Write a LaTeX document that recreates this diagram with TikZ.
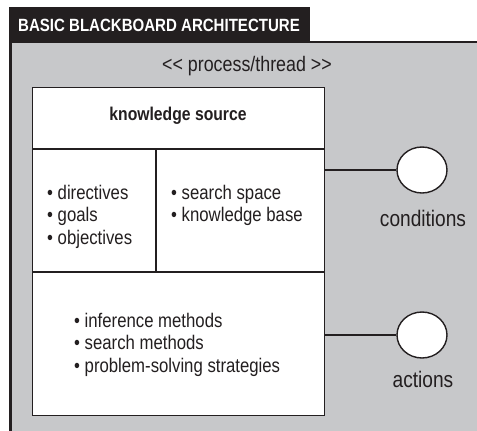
\documentclass[tikz,border=0pt]{standalone}
\usepackage{fontspec}
\usetikzlibrary{shapes.geometric}
\setmainfont{Liberation Sans}[FakeStretch=0.85]
\definecolor{panelgray}{RGB}{199,200,202}
\definecolor{ink}{RGB}{35,31,32}
\begin{document}
\begin{tikzpicture}[x=1pt,y=-1pt,
  edge/.style={draw=ink,line width=1.4pt},
  body/.style={font=\fontsize{19.7}{22.3}\selectfont,text=ink,inner sep=0pt},
  lst/.style={body,align=left,anchor=north west},
  port/.style={draw=ink,line width=1.4pt,fill=white,ellipse,minimum width=50pt,minimum height=46pt,inner sep=0pt},
  portlabel/.style={font=\fontsize{22.5}{24}\selectfont,text=ink,inner sep=0pt}]
\useasboundingbox (0,0) rectangle (477,431);
\fill[white] (0,0) rectangle (477,431);
% panel
\fill[panelgray] (9,42) rectangle (477,431);
\fill[ink] (9,7) rectangle (310,42);
\draw[ink,line width=2.7pt] (477,42) -- (10.3,42) -- (10.3,431);
\node[font=\bfseries\fontsize{17.7}{20}\selectfont,text=white,anchor=west,inner sep=0pt] (title) at (18,25) {BASIC BLACKBOARD ARCHITECTURE};
\node[font=\fontsize{21}{24}\selectfont,text=ink,inner sep=0pt] (stereo) at (247,66) {{<}{<} process/thread {>}{>}};
% box
\fill[white] (32,87) rectangle (324,415);
\draw[edge] (32,149) -- (324,149);
\draw[edge] (32,272) -- (324,272);
\draw[edge] (156,149) -- (156,272);
\node[draw=ink,line width=1.4pt,minimum width=292pt,minimum height=328pt,anchor=north west,inner sep=0pt] (ks) at (32,87) {};
\node[font=\bfseries\fontsize{18.5}{22}\selectfont,text=ink,inner sep=0pt] (kstitle) at (178,116) {knowledge source};
\node[lst] (left) at (47,185) {• directives\\• goals\\• objectives};
\node[lst] (right) at (171,185) {• search space\\• knowledge base};
\node[lst] (bottom) at (74,313) {• inference methods\\• search methods\\• problem-solving strategies};
% ports
\node[port] (cond) at (422,170) {};
\node[port] (act) at (422,335) {};
\coordinate (c0) at (324,170);
\coordinate (a0) at (324,335);
\draw[edge] (c0) -- (cond.west);
\draw[edge] (a0) -- (act.west);
\node[portlabel] (condl) at (423,218) {conditions};
\node[portlabel] (actl) at (423,379) {actions};
\end{tikzpicture}
\end{document}
